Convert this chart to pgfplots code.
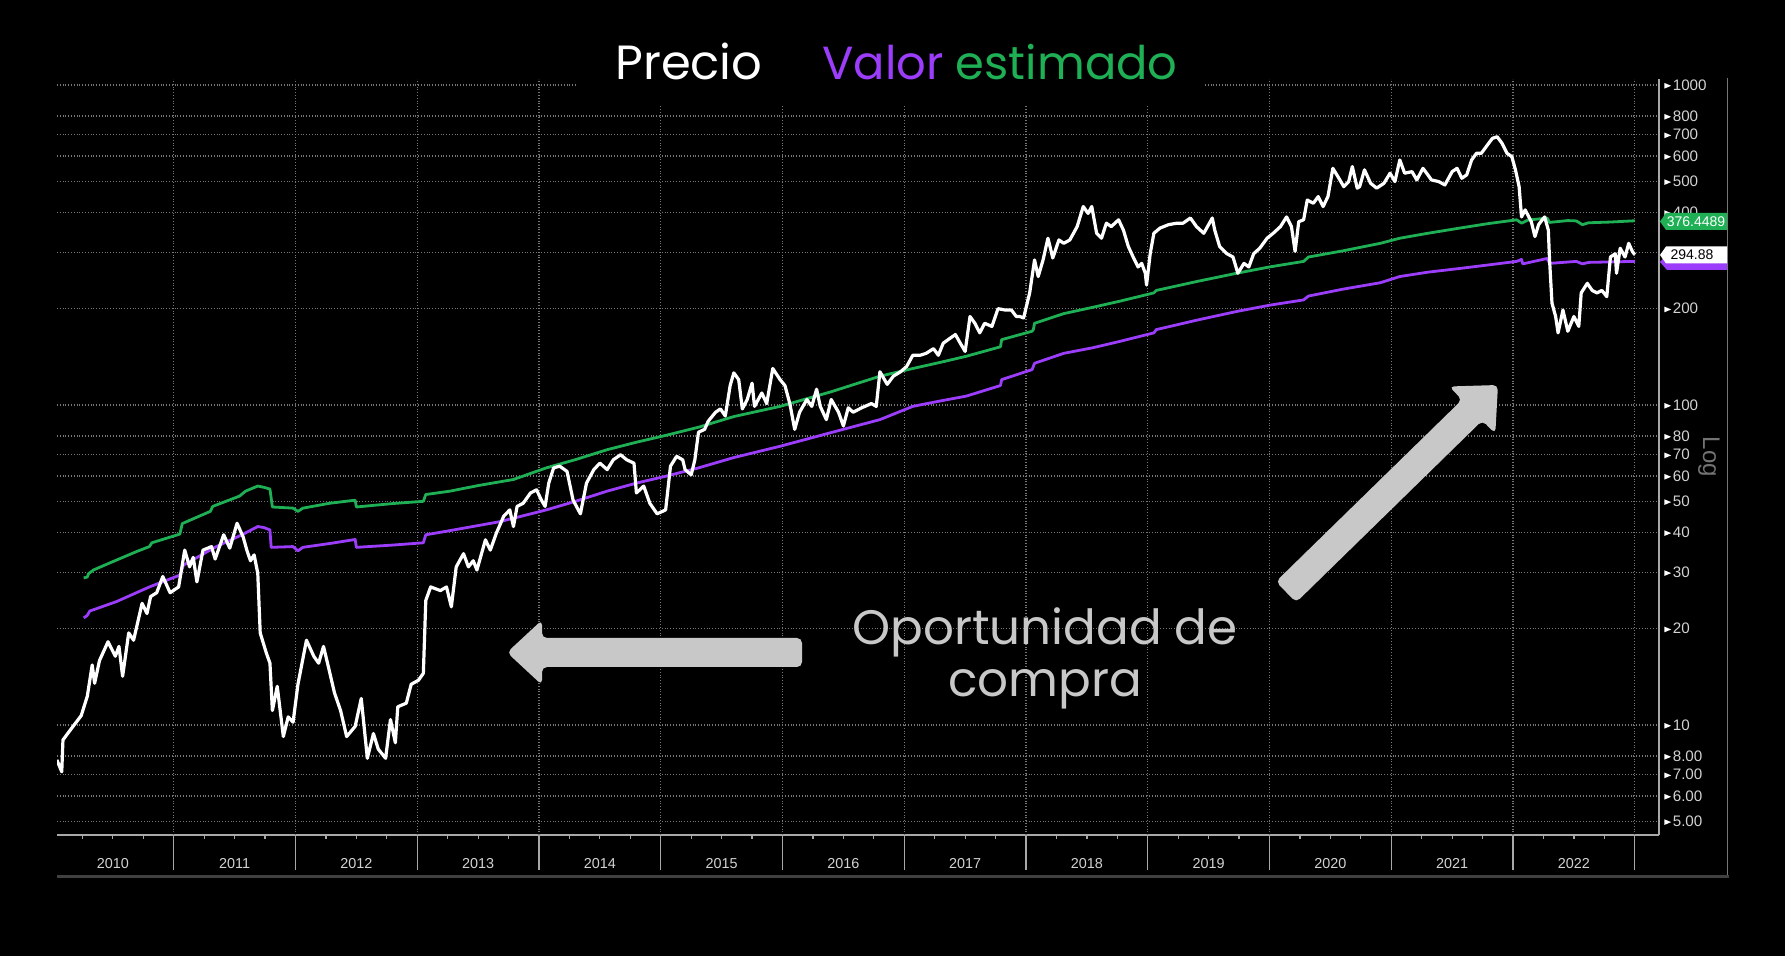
\documentclass[border=0pt]{standalone}
\usepackage{fontspec}
\setmainfont{Poppins}
\newfontfamily\tickfont{Liberation Sans}
\usepackage{pgfplots}
\usepackage{pgfplotstable}
\pgfplotsset{compat=1.18}

\definecolor{valor}{HTML}{9B3DFA}
\definecolor{estim}{HTML}{1FB055}
\definecolor{gridc}{HTML}{767676}
\definecolor{axisc}{HTML}{A8A8A8}
\definecolor{anno}{HTML}{C8C8C8}
\definecolor{ticktxt}{HTML}{D2D2D2}

% precio (white line), year vs. price
\pgfplotstableread{
t v
2010.04 7.78
2010.08 7.14
2010.09 8.98
2010.15 9.64
2010.24 10.7
2010.29 12.3
2010.33 15.4
2010.35 13.5
2010.39 15.9
2010.46 18.2
2010.52 16.4
2010.55 17.6
2010.58 14.2
2010.63 19.4
2010.67 18.4
2010.74 24.0
2010.78 22.3
2010.81 25.2
2010.86 25.9
2010.91 29.1
2010.97 25.9
2011.04 27.0
2011.09 35.2
2011.13 31.2
2011.16 33.4
2011.19 28.0
2011.24 35.2
2011.31 36.1
2011.34 33.0
2011.41 39.3
2011.46 35.7
2011.52 42.7
2011.57 38.7
2011.60 35.2
2011.63 32.6
2011.66 34.0
2011.69 29.8
2011.71 19.4
2011.76 16.8
2011.79 15.6
2011.81 11.1
2011.85 13.2
2011.90 9.2
2011.94 10.6
2011.98 10.2
2012.02 13.4
2012.09 18.4
2012.15 16.4
2012.19 15.6
2012.23 17.6
2012.27 15.2
2012.32 12.6
2012.37 11.1
2012.42 9.2
2012.49 9.9
2012.54 12.1
2012.59 7.87
2012.64 9.4
2012.68 8.4
2012.74 7.87
2012.78 10.4
2012.82 8.8
2012.84 11.4
2012.91 11.7
2012.95 13.4
2013.01 13.8
2013.05 14.5
2013.07 24.5
2013.11 27.0
2013.19 26.3
2013.24 27.0
2013.28 23.4
2013.32 31.2
2013.38 34.3
2013.42 31.2
2013.46 32.6
2013.49 30.5
2013.56 37.9
2013.60 35.2
2013.65 39.8
2013.71 44.9
2013.76 47.0
2013.79 41.7
2013.82 48.2
2013.87 49.3
2013.93 53.1
2013.98 54.3
2014.02 50.4
2014.05 48.2
2014.08 57.0
2014.12 63.6
2014.17 64.4
2014.23 62.0
2014.28 50.4
2014.34 45.7
2014.39 57.0
2014.45 62.8
2014.50 65.8
2014.56 62.8
2014.61 67.4
2014.67 69.9
2014.72 67.4
2014.78 65.8
2014.80 53.1
2014.86 55.8
2014.91 49.3
2014.97 45.7
2015.04 47.0
2015.08 64.4
2015.13 69.1
2015.18 67.4
2015.20 62.8
2015.25 60.5
2015.28 67.4
2015.31 82.2
2015.36 83.9
2015.39 89.0
2015.45 94.9
2015.49 97.2
2015.53 92.4
2015.57 115
2015.60 126
2015.64 120
2015.67 97.2
2015.71 104
2015.75 117
2015.77 99.0
2015.83 109
2015.87 101
2015.92 130
2015.98 120
2016.02 115
2016.06 101
2016.10 83.9
2016.14 94.9
2016.20 104
2016.24 99.0
2016.28 112
2016.31 99.0
2016.36 90.0
2016.40 104
2016.46 94.9
2016.50 86.0
2016.54 98.0
2016.58 94.9
2016.65 98
2016.73 101
2016.77 99
2016.80 127
2016.86 116
2016.91 123
2016.97 127
2017.02 132
2017.07 143
2017.13 143
2017.18 145
2017.24 150
2017.28 143
2017.32 156
2017.38 162
2017.42 166
2017.46 156
2017.50 147
2017.54 189
2017.58 180
2017.62 168
2017.66 180
2017.72 176
2017.77 200
2017.83 198
2017.88 198
2017.92 189
2017.95 189
2017.98 187
2018.03 224
2018.07 284
2018.10 252
2018.14 284
2018.18 332
2018.22 288
2018.27 328
2018.31 320
2018.36 328
2018.42 361
2018.47 417
2018.51 397
2018.54 417
2018.58 344
2018.62 332
2018.66 370
2018.70 361
2018.76 379
2018.80 352
2018.84 313
2018.88 290
2018.92 270
2018.95 277
2018.98 258
2018.99 237
2019.02 297
2019.05 344
2019.10 357
2019.17 366
2019.24 370
2019.29 370
2019.35 384
2019.40 361
2019.46 344
2019.53 384
2019.55 352
2019.59 313
2019.65 297
2019.70 290
2019.74 258
2019.79 277
2019.83 270
2019.87 297
2019.92 309
2019.98 332
2020.03 344
2020.09 361
2020.14 387
2020.18 361
2020.21 302
2020.24 374
2020.28 379
2020.31 437
2020.36 427
2020.40 448
2020.44 417
2020.48 448
2020.52 549
2020.57 511
2020.61 481
2020.65 499
2020.68 556
2020.72 476
2020.74 481
2020.78 543
2020.83 493
2020.88 476
2020.94 493
2020.99 530
2021.03 499
2021.07 583
2021.11 530
2021.17 536
2021.21 505
2021.26 549
2021.30 524
2021.33 505
2021.39 499
2021.44 487
2021.50 536
2021.54 549
2021.58 511
2021.62 524
2021.66 583
2021.70 612
2021.74 612
2021.78 642
2021.83 681
2021.87 689
2021.91 657
2021.95 612
2021.99 597
2022.02 543
2022.05 481
2022.07 387
2022.10 407
2022.13 387
2022.15 374
2022.18 336
2022.21 366
2022.24 379
2022.26 387
2022.29 352
2022.30 284
2022.32 208
2022.35 189
2022.37 168
2022.41 198
2022.45 170
2022.50 189
2022.54 176
2022.56 224
2022.61 240
2022.65 228
2022.69 224
2022.73 228
2022.77 218
2022.80 290
2022.84 297
2022.85 258
2022.88 309
2022.92 290
2022.95 320
2022.98 302
2023.00 294.88
}\precio

% valor estimado, upper band (green)
\pgfplotstableread{
t v
2010.26 28.8
2010.29 29.0
2010.30 29.7
2010.34 30.5
2010.50 32.4
2010.70 34.9
2010.80 36.1
2010.82 37.1
2011.05 39.5
2011.07 42.6
2011.30 46.5
2011.32 48.2
2011.54 51.9
2011.59 53.8
2011.69 55.8
2011.74 55.3
2011.79 54.6
2011.81 48.0
2011.98 47.6
2012.02 46.5
2012.06 47.6
2012.28 49.3
2012.49 50.4
2012.50 48.0
2012.60 48.4
2012.80 49.2
2013.05 50.0
2013.07 52.5
2013.27 53.8
2013.50 56.0
2013.79 58.5
2014.06 63.6
2014.30 67.5
2014.56 72.5
2014.80 76.5
2015.05 80.5
2015.31 85.2
2015.60 92
2015.98 99.0
2016.40 110
2016.80 123
2017.07 130
2017.30 136
2017.51 142
2017.79 152
2017.80 160
2018.05 170
2018.06 172
2018.07 180
2018.31 193
2018.55 202
2018.77 211
2019.05 224
2019.07 228
2019.40 243
2019.73 258
2020.00 270
2020.28 281
2020.32 290
2020.60 303
2020.91 320
2021.07 332
2021.30 344
2021.56 357
2021.80 369
2022.03 379
2022.07 370
2022.12 378
2022.28 384
2022.30 372
2022.45 377
2022.52 376
2022.57 366
2022.62 371
2022.80 373
2023.00 376.45
}\verde

% valor estimado, lower band (purple)
\pgfplotstableread{
t v
2010.26 21.6
2010.29 22.0
2010.31 22.7
2010.53 24.3
2010.80 27.0
2011.05 29.4
2011.08 31.6
2011.35 36.1
2011.56 39.3
2011.69 41.7
2011.74 41.4
2011.79 40.7
2011.80 35.9
2011.98 36.1
2012.02 35.0
2012.06 35.9
2012.30 37.0
2012.49 38.0
2012.50 35.9
2012.80 36.5
2013.05 37.1
2013.07 39.3
2013.27 40.5
2013.68 43.2
2014.06 47.0
2014.30 50.0
2014.56 53.8
2014.80 57.0
2015.05 60.0
2015.31 63.6
2015.60 68.5
2015.98 74.3
2016.40 82
2016.80 90
2017.07 99
2017.30 103
2017.51 106.6
2017.79 115
2017.80 120
2018.05 129
2018.07 135
2018.31 145
2018.55 151
2018.77 158
2019.05 168
2019.07 172
2019.40 184
2019.73 196
2020.00 205
2020.28 213
2020.32 219
2020.60 230
2020.91 241
2021.07 252
2021.30 260
2021.56 267
2021.80 274
2022.03 281
2022.07 285
2022.08 276
2022.28 287
2022.30 277
2022.52 281
2022.57 276
2022.62 279
2023.00 281
}\morado

\newcommand{\tri}{\tikz[baseline=-0.55ex]\fill[white] (0,-1.4pt)--(3.4pt,0)--(0,1.4pt)--cycle;}
\newcommand{\yl}[1]{\tri\hspace{0.8pt}#1}

\begin{document}
\begin{tikzpicture}
\fill[black] (0,0) rectangle (892.5pt,-478pt);

\begin{axis}[
  at={(28.5pt,-39.5pt)}, anchor=north west,
  scale only axis, width=801pt, height=378pt,
  xmin=2010.041, xmax=2023.199,
  ymode=log, ymin=4.531, ymax=1044,
  axis x line=bottom, axis y line=right,
  axis line style={-, draw=axisc, line width=1pt},
  tick align=outside,
  major tick length=2pt,
  xtick={2010.25,2010.5,2010.75,2011.25,2011.5,2011.75,2012.25,2012.5,2012.75,
         2013.25,2013.5,2013.75,2014.25,2014.5,2014.75,2015.25,2015.5,2015.75,
         2016.25,2016.5,2016.75,2017.25,2017.5,2017.75,2018.25,2018.5,2018.75,
         2019.25,2019.5,2019.75,2020.25,2020.5,2020.75,2021.25,2021.5,2021.75,
         2022.25,2022.5,2022.75},
  xticklabels={,2010,,,2011,,,2012,,,2013,,,2014,,,2015,,,2016,,,2017,,,2018,,,2019,,,2020,,,2021,,,2022,},
  xtick style={axisc, line width=0.6pt},
  xticklabel style={anchor=center, yshift=-12.5pt, font=\tickfont\fontsize{7.2}{8}\selectfont, text=ticktxt},
  extra x ticks={2011,2012,2013,2014,2015,2016,2017,2018,2019,2020,2021,2022,2023},
  extra x tick labels={,,,,,,,,,,,,},
  extra x tick style={grid=major, major tick length=17.5pt, tick style={axisc, line width=0.6pt}},
  ytick={5,6,7,8,10,20,30,40,50,60,70,80,100,200,300,400,500,600,700,800,1000},
  yticklabels={\yl{5.00},\yl{6.00},\yl{7.00},\yl{8.00},\yl{10},\yl{20},\yl{30},\yl{40},\yl{50},\yl{60},\yl{70},\yl{80},\yl{100},\yl{200},,\yl{400},\yl{500},\yl{600},\yl{700},\yl{800},\yl{1000}},
  ytick style={draw=none},
  yticklabel style={anchor=west, inner sep=0pt, xshift=0.5pt, font=\tickfont\fontsize{7.6}{8}\selectfont, text=ticktxt},
  ymajorgrids=true,
  major grid style={gridc, densely dotted, line width=0.6pt},
]
\addplot[no marks, estim, line width=1.4pt, line join=round] table[x=t, y=v] {\verde};
\addplot[no marks, valor, line width=1.4pt, line join=round] table[x=t, y=v] {\morado};
\addplot[no marks, white, line width=1.6pt, line join=round] table[x=t, y=v] {\precio};
\end{axis}

\begin{scope}[x=0.5pt, y=-0.5pt]
  % title background and title
  \fill[black] (578,74) rectangle (1204,106);
  \node[anchor=base west, inner sep=0pt, text=white, font=\fontsize{24}{28}\selectfont] at (615,80) {Precio};
  \node[anchor=base west, inner sep=0pt, font=\fontsize{23.2}{28}\selectfont] at (822,80) {\textcolor{valor}{Valor} \textcolor{estim}{estimado}};
  % frame lines
  \draw[gridc, line width=0.5pt] (1727,78) -- (1727,877);
  \draw[black!75!white, line width=1.5pt] (57,877) -- (1729,877);
  % last value tags
  \fill[estim] (1660,221.5) -- (1666,213) -- (1727,213) -- (1727,230) -- (1666,230) -- cycle;
  \node[text=white, inner sep=0pt, font=\tickfont\fontsize{7}{7}\selectfont] at (1696,221.5) {376.4489};
  \fill[valor] (1660,262) -- (1667,254) -- (1727,254) -- (1727,270) -- (1667,270) -- cycle;
  \fill[white] (1660,255) -- (1666,246.5) -- (1727,246.5) -- (1727,263.5) -- (1666,263.5) -- cycle;
  \node[text=black, inner sep=0pt, font=\tickfont\fontsize{7}{7}\selectfont] at (1692,255) {294.88};
  \node[rotate=-90, text=black!55!white, inner sep=0pt, font=\tickfont\fontsize{12}{12}\selectfont] at (1709,457) {Log};
  % annotation arrows
  \fill[anno, rounded corners=2.5pt] (802,638) -- (542,638) -- (542,620) -- (507,652.5) -- (542,685) -- (542,667) -- (802,667) -- cycle;
  \fill[anno, rounded corners=2.5pt] (1275.9,581.6) -- (1462.1,399.7) -- (1449.1,386.5) -- (1498,385) -- (1495.3,433.7) -- (1482.3,420.5) -- (1296.1,602.4) -- cycle;
  \node[anchor=base, inner sep=0pt, text=anno, font=\fontsize{24.2}{28}\selectfont] at (1045,645) {Oportunidad de};
  \node[anchor=base, inner sep=0pt, text=anno, font=\fontsize{24.2}{28}\selectfont] at (1045,697) {compra};
\end{scope}

\pgfresetboundingbox
\path[use as bounding box] (0,0) rectangle (892.5pt,-478pt);
\end{tikzpicture}
\end{document}
